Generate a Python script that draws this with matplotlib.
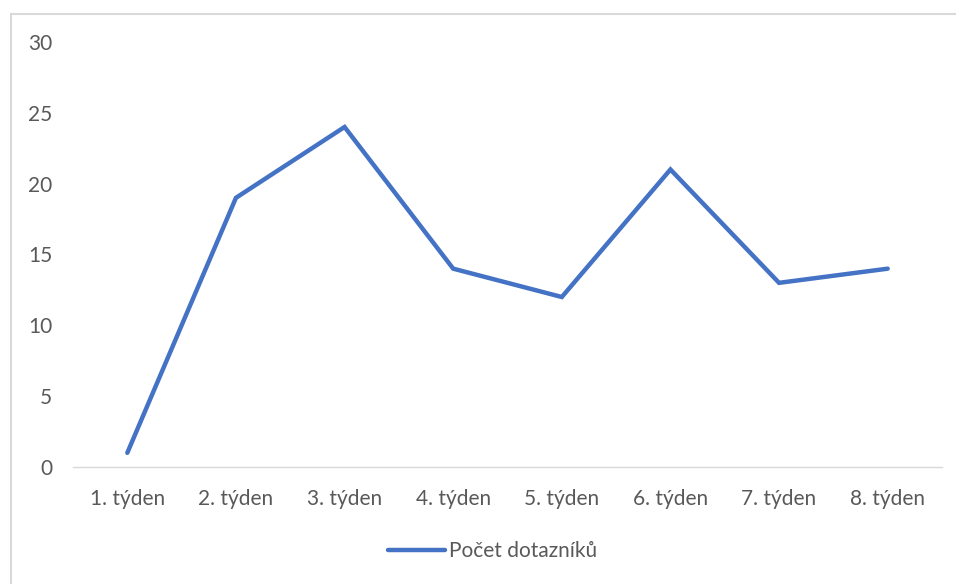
import matplotlib
matplotlib.use("Agg")
import matplotlib.pyplot as plt
from matplotlib.lines import Line2D

plt.rcParams['font.family'] = ['Lato', 'DejaVu Sans']

weeks = ["1. týden", "2. týden", "3. týden", "4. týden",
         "5. týden", "6. týden", "7. týden", "8. týden"]
counts = [1, 19, 24, 14, 12, 21, 13, 14]
series_name = "Počet dotazníků"
y_ticks = [0, 5, 10, 15, 20, 25, 30]

text_color = "#595959"
line_color = "#4472C4"
font_size = 15

fig = plt.figure(figsize=(9.56, 5.84), dpi=100)
ax = fig.add_axes([73 / 956, 1 - 467 / 584, (942 - 73) / 956, (467 - 42) / 584])

x = list(range(len(weeks)))
ax.plot(x, counts, color=line_color, linewidth=3.2, solid_capstyle="round",
        solid_joinstyle="miter", label=series_name)

ax.set_xlim(-0.5, len(weeks) - 0.5)
ax.set_ylim(0, 30)
ax.set_yticks(y_ticks)
ax.set_xticks(x)
ax.set_xticklabels(weeks)

for side in ("top", "right", "left"):
    ax.spines[side].set_visible(False)
ax.spines["bottom"].set_color("#D9D9D9")
ax.spines["bottom"].set_linewidth(1.0)

ax.tick_params(axis="both", length=0, labelsize=font_size, colors=text_color)
ax.tick_params(axis="y", pad=15)
ax.tick_params(axis="x", pad=15.5)

leg = ax.legend(loc="center", bbox_to_anchor=(0.483, (467 - 551) / 425), frameon=False,
                fontsize=font_size, handlelength=2.7, handletextpad=0.2)
for t in leg.get_texts():
    t.set_color(text_color)

# chart area frame (left and top edges)
fig.add_artist(Line2D([10.5 / 956, 10.5 / 956], [0, 1 - 14 / 584],
                      transform=fig.transFigure, color="#D9D9D9", linewidth=1.5))
fig.add_artist(Line2D([10.5 / 956, 1], [1 - 14 / 584, 1 - 14 / 584],
                      transform=fig.transFigure, color="#D9D9D9", linewidth=1.5))

fig.savefig("out.png", dpi=100, facecolor="white")
